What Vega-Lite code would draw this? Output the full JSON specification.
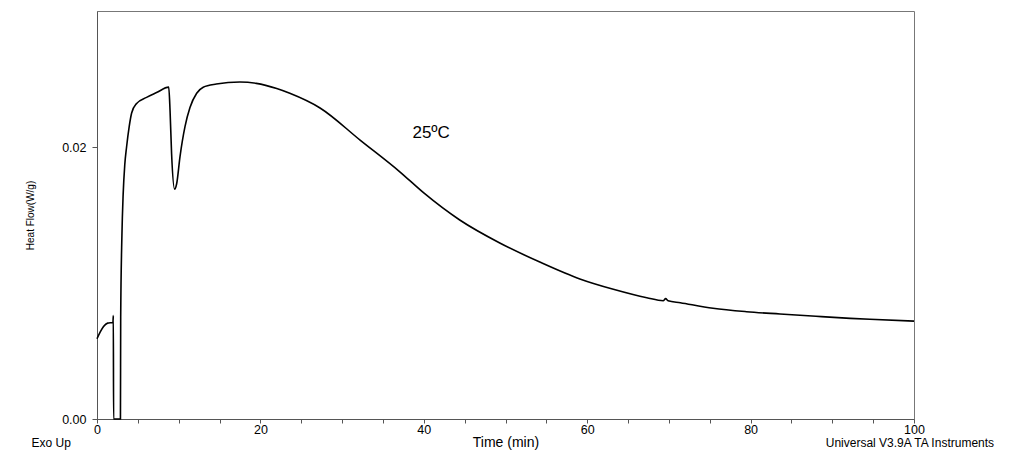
{
  "$schema": "https://vega.github.io/schema/vega-lite/v6.json",
  "autosize": {"type": "none"},
  "width": 817,
  "height": 408,
  "padding": {"left": 97, "top": 11, "right": 101, "bottom": 39},
  "background": "white",
  "config": {
    "view": {"stroke": "#777", "strokeWidth": 1},
    "font": "Liberation Sans"
  },
  "datasets": {
    "curve": [
      {"t": 0, "v": 0.0059}, {"t": 0.4, "v": 0.0064}, {"t": 0.8, "v": 0.0068}, {"t": 1.3, "v": 0.00705},
      {"t": 1.95, "v": 0.0071}, {"t": 2.0, "v": 0.0076}, {"t": 2.03, "v": 0.0}, {"t": 2.87, "v": 0.0},
      {"t": 2.9, "v": 0.0075}, {"t": 3.05, "v": 0.0135}, {"t": 3.2, "v": 0.0165}, {"t": 3.4, "v": 0.0187},
      {"t": 3.62, "v": 0.02}, {"t": 3.94, "v": 0.0215}, {"t": 4.24, "v": 0.0225}, {"t": 4.85, "v": 0.0232},
      {"t": 6.07, "v": 0.02365}, {"t": 7.29, "v": 0.024}, {"t": 8.78, "v": 0.0244}, {"t": 8.94, "v": 0.0227},
      {"t": 9.13, "v": 0.0195}, {"t": 9.5, "v": 0.0169}, {"t": 9.75, "v": 0.0173}, {"t": 10.16, "v": 0.0193},
      {"t": 10.77, "v": 0.0215}, {"t": 11.38, "v": 0.0229}, {"t": 12.2, "v": 0.02395}, {"t": 13.0, "v": 0.0244},
      {"t": 14.6, "v": 0.02463}, {"t": 17.5, "v": 0.02478}, {"t": 19.5, "v": 0.02468}, {"t": 22.0, "v": 0.0243},
      {"t": 23.6, "v": 0.02395}, {"t": 27.3, "v": 0.02287}, {"t": 32.2, "v": 0.02051}, {"t": 37.1, "v": 0.01816},
      {"t": 40, "v": 0.01662}, {"t": 44.4, "v": 0.01463}, {"t": 49.3, "v": 0.01294}, {"t": 54.2, "v": 0.01154},
      {"t": 59.1, "v": 0.0103}, {"t": 63.2, "v": 0.00954}, {"t": 67.3, "v": 0.00892}, {"t": 69.3, "v": 0.0087},
      {"t": 69.6, "v": 0.00885}, {"t": 69.9, "v": 0.0087}, {"t": 71.4, "v": 0.00855}, {"t": 75.4, "v": 0.00814},
      {"t": 79.5, "v": 0.00789}, {"t": 83.6, "v": 0.00772}, {"t": 88, "v": 0.00755}, {"t": 92.2, "v": 0.0074},
      {"t": 94.6, "v": 0.00733}, {"t": 100, "v": 0.0072}
    ],
    "notes": [
      {"label": "25ºC", "t": 40.9, "v": 0.02103, "kind": "big"},
      {"label": "Exo Up", "t": -5.6, "v": -0.00176, "kind": "small"},
      {"label": "Universal V3.9A TA Instruments", "t": 99.5, "v": -0.00176, "kind": "small"}
    ]
  },
  "layer": [
    {
      "data": {"name": "curve"},
      "mark": {"type": "line", "color": "black", "strokeWidth": 1.6, "interpolate": "monotone"},
      "encoding": {
        "x": {
          "field": "t", "type": "quantitative",
          "scale": {"domain": [0, 100], "nice": false, "zero": false},
          "axis": {
            "title": "Time (min)",
            "values": [0,5,10,15,20,25,30,35,40,45,50,55,60,65,70,75,80,85,90,95,100],
            "labelExpr": "datum.value % 20 === 0 ? datum.label : ''",
            "format": "d",
            "grid": false,
            "domainColor": "#555",
            "tickColor": "#555",
            "tickSize": 4,
            "labelPadding": 0,
            "labelFontSize": 12.5,
            "labelColor": "black",
            "labelFlush": false,
            "titleFontSize": 14,
            "titleFontWeight": "normal",
            "titleColor": "black",
            "titlePadding": 0
          }
        },
        "y": {
          "field": "v", "type": "quantitative",
          "scale": {"domain": [0, 0.03], "nice": false},
          "axis": {
            "title": "Heat Flow(W/g)",
            "values": [0, 0.02],
            "format": ".2f",
            "grid": false,
            "domainColor": "#555",
            "tickColor": "#555",
            "tickSize": 5,
            "labelPadding": 6,
            "labelFontSize": 12.5,
            "labelColor": "black",
            "labelFlush": false,
            "titleFontSize": 10,
            "titleFontWeight": "normal",
            "titleColor": "black",
            "titleX": -67,
            "titleY": 204,
            "titleBaseline": "middle"
          }
        }
      }
    },
    {
      "data": {"name": "notes"},
      "transform": [{"filter": "datum.kind === 'big'"}],
      "mark": {"type": "text", "fontSize": 17, "color": "black", "align": "center", "baseline": "middle"},
      "encoding": {
        "x": {"field": "t", "type": "quantitative"},
        "y": {"field": "v", "type": "quantitative"},
        "text": {"field": "label"}
      }
    },
    {
      "data": {"name": "notes"},
      "transform": [{"filter": "datum.kind === 'small'"}],
      "mark": {"type": "text", "fontSize": 12, "color": "black", "align": "center", "baseline": "middle"},
      "encoding": {
        "x": {"field": "t", "type": "quantitative"},
        "y": {"field": "v", "type": "quantitative"},
        "text": {"field": "label"}
      }
    }
  ]
}
